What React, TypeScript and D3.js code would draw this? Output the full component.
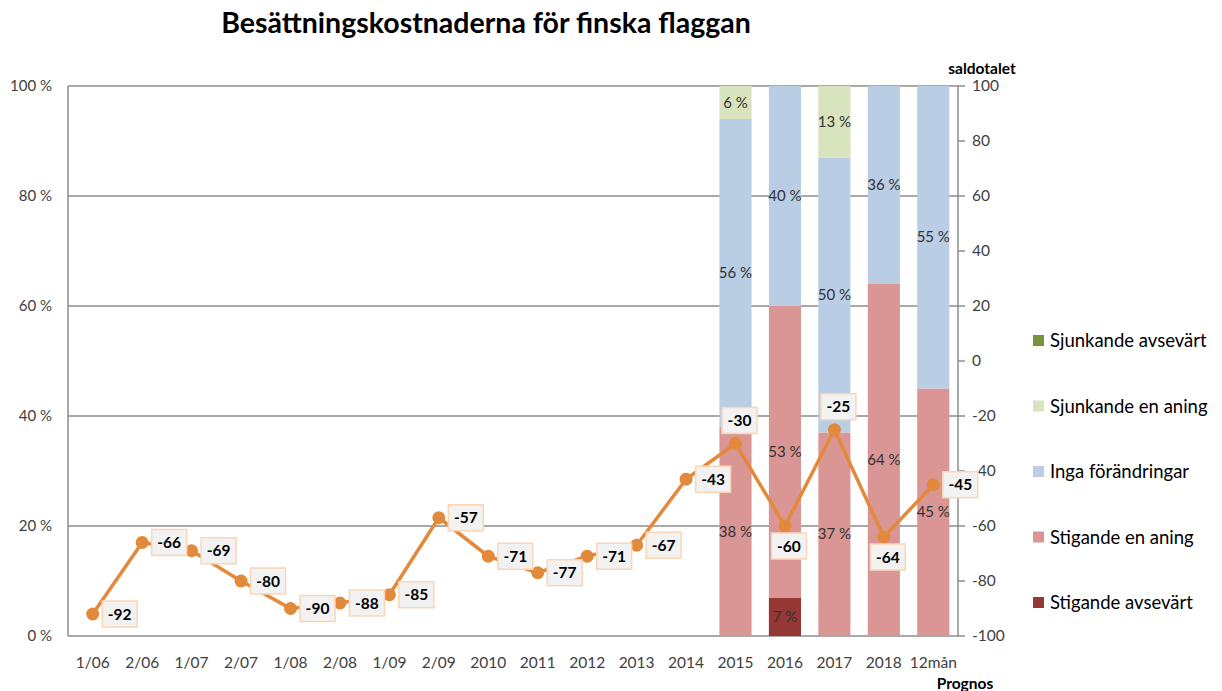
import React from 'react';
import * as d3 from 'd3';

// categories along the x axis
const categories = ['1/06', '2/06', '1/07', '2/07', '1/08', '2/08', '1/09', '2/09', '2010', '2011', '2012', '2013', '2014', '2015', '2016', '2017', '2018', '12mån'];

// saldotalet (right axis)
const saldo = [-92, -66, -69, -80, -90, -88, -85, -57, -71, -77, -71, -67, -43, -30, -60, -25, -64, -45];
// where each saldo label sits relative to its point
const saldoLabelPos = ['r', 'r', 'r', 'r', 'r', 'r', 'r', 'r', 'r', 'r', 'r', 'r', 'r', 'a', 'b', 'a', 'b', 'r'];

// stacked shares (%) — only the last five categories have answers
const barCats = ['2015', '2016', '2017', '2018', '12mån'];
const stigandeAvsevart = [0, 7, 0, 0, 0];
const stigandeEnAning = [38, 53, 37, 64, 45];
const ingaForandringar = [56, 40, 50, 36, 55];
const sjunkandeEnAning = [6, 0, 13, 0, 0];
const sjunkandeAvsevart = [0, 0, 0, 0, 0];

const leftTicks = [0, 20, 40, 60, 80, 100];
const rightTicks = [-100, -80, -60, -40, -20, 0, 20, 40, 60, 80, 100];

// stacking order bottom to top, legend order is reversed
const series = [
  { name: 'Stigande avsevärt', values: stigandeAvsevart, color: '#953735' },
  { name: 'Stigande en aning', values: stigandeEnAning, color: '#d99694' },
  { name: 'Inga förändringar', values: ingaForandringar, color: '#b9cde5' },
  { name: 'Sjunkande en aning', values: sjunkandeEnAning, color: '#d7e4bd' },
  { name: 'Sjunkande avsevärt', values: sjunkandeAvsevart, color: '#77933c' },
];

const FONT = 'Lato, "Open Sans", sans-serif';
const LINE = '#e2893b';
const GRID = '#8c8c8c';

export default function App() {
  const width = 1222;
  const height = 691;
  const left = 68;
  const right = 958;
  const top = 86;
  const bottom = 636;

  const x = d3.scaleBand<string>().domain(categories).range([left, right]).paddingInner(0.35).paddingOuter(0.175);
  const yPct = d3.scaleLinear().domain([0, 100]).range([bottom, top]);
  const ySaldo = d3.scaleLinear().domain([-100, 100]).range([bottom, top]);
  const cx = (c: string) => (x(c) as number) + x.bandwidth() / 2;

  const table = barCats.map((c, i) => {
    const row: Record<string, number | string> = { cat: c };
    series.forEach(s => { row[s.name] = s.values[i]; });
    return row;
  });
  const stacked = d3.stack<Record<string, number | string>>().keys(series.map(s => s.name))(table as any);

  const line = d3.line<number>()
    .x((_, i) => cx(categories[i]))
    .y(d => ySaldo(d));

  const legendY = d3.scalePoint<string>().domain(series.map(s => s.name).reverse()).range([341, 603]);

  return (
    <svg width={width} height={height} style={{ position: 'absolute', left: 0, top: 0, background: '#fff' }} fontFamily={FONT}>
      <text x={486} y={33} textAnchor="middle" fontSize={28.5} fontWeight="bold" fill="#000">Besättningskostnaderna för finska flaggan</text>

      {/* gridlines */}
      {leftTicks.map(t => (
        <line key={'g' + t} x1={left} x2={right} y1={yPct(t)} y2={yPct(t)} stroke={GRID} strokeWidth={1.5} />
      ))}
      <line x1={left} x2={left} y1={top} y2={bottom} stroke={GRID} strokeWidth={1.5} />
      <line x1={right} x2={right} y1={top} y2={bottom} stroke={GRID} strokeWidth={1.5} />
      {rightTicks.map(t => (
        <line key={'rt' + t} x1={right} x2={right + 7} y1={ySaldo(t)} y2={ySaldo(t)} stroke={GRID} strokeWidth={1.5} />
      ))}

      {/* left axis labels */}
      {leftTicks.map(t => (
        <text key={'l' + t} x={52} y={yPct(t) + 5} textAnchor="end" fontSize={15} fill="#404040">{t} %</text>
      ))}
      {/* right axis labels */}
      {rightTicks.map(t => (
        <text key={'r' + t} x={972} y={ySaldo(t) + 5} fontSize={15.5} fill="#404040">{t}</text>
      ))}
      <text x={982} y={74} textAnchor="middle" fontSize={15.5} fontWeight="bold" fill="#000">saldotalet</text>

      {/* category labels */}
      {categories.map(c => (
        <text key={'c' + c} x={cx(c)} y={668} textAnchor="middle" fontSize={15.5} fill="#404040">{c}</text>
      ))}
      <text x={965} y={689} textAnchor="middle" fontSize={15.5} fontWeight="bold" fill="#000">Prognos</text>

      {/* stacked bars */}
      {stacked.map((layer, si) => (
        <g key={layer.key}>
          {layer.map((d, i) => {
            const v = d[1] - d[0];
            if (v <= 0) return null;
            const c = barCats[i];
            return (
              <g key={c}>
                <rect x={x(c)} y={yPct(d[1])} width={x.bandwidth()} height={yPct(d[0]) - yPct(d[1])} fill={series[si].color} />
                <text x={cx(c)} y={yPct((d[0] + d[1]) / 2) + 5} textAnchor="middle" fontSize={15} fill="#333">{v} %</text>
              </g>
            );
          })}
        </g>
      ))}

      {/* saldo line */}
      <path d={line(saldo) || ''} fill="none" stroke={LINE} strokeWidth={3.5} strokeLinejoin="round" />
      {saldo.map((v, i) => (
        <circle key={'p' + i} cx={cx(categories[i])} cy={ySaldo(v)} r={6.5} fill={LINE} />
      ))}
      {saldo.map((v, i) => {
        const px = cx(categories[i]);
        const py = ySaldo(v);
        const pos = saldoLabelPos[i];
        const lx = pos === 'r' ? px + 27 : px + 4;
        const ly = pos === 'r' ? py : pos === 'a' ? py - 23 : py + 20;
        const w = 35;
        const h = 26;
        return (
          <g key={'lb' + i}>
            <rect x={lx - w / 2} y={ly - h / 2} width={w} height={h} fill="#f2f2f2" stroke="#fcd5b5" strokeWidth={1.5} />
            <text x={lx} y={ly + 5.5} textAnchor="middle" fontSize={15.5} fontWeight="bold" fill="#000">{v}</text>
          </g>
        );
      })}

      {/* legend */}
      {series.map(s => (
        <g key={'lg' + s.name} transform={`translate(1033,${legendY(s.name)})`}>
          <rect x={0} y={-6} width={11} height={11} fill={s.color} />
          <text x={17} y={6} fontSize={18.5} fill="#000">{s.name}</text>
        </g>
      ))}
    </svg>
  );
}
